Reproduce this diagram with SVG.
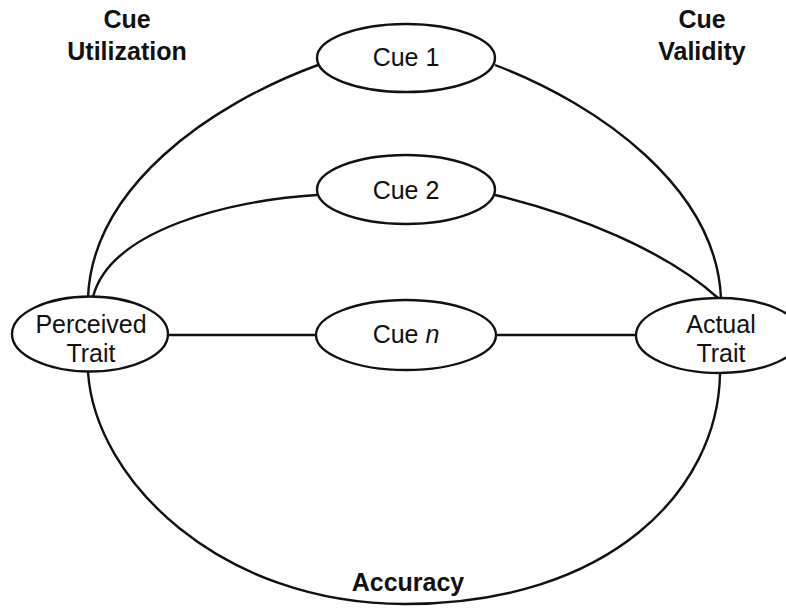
<svg xmlns="http://www.w3.org/2000/svg" width="786" height="608" viewBox="0 0 786 608">
<style>
.edge{fill:none;stroke:#111;stroke-width:2.4}
.node{fill:#fff;stroke:#111;stroke-width:2.4}
.t{font-family:"Liberation Sans",Arial,sans-serif;font-size:25px;fill:#111;text-anchor:middle}
.b{font-family:"Liberation Sans",Arial,sans-serif;font-size:25px;font-weight:bold;fill:#111;text-anchor:middle}
</style>
<rect width="786" height="608" fill="#fff"/>
<g id="connectors">
<path class="edge" d="M 88 297 C 93 187, 209 105, 318 65"/>
<path class="edge" d="M 495 65 C 600 105, 716 188, 721 298"/>
<path class="edge" d="M 93 297 C 110 230, 230 200, 317 195"/>
<path class="edge" d="M 495 195 C 575 214, 665 250, 718 298"/>
<path class="edge" d="M 168 335 L 316 335"/>
<path class="edge" d="M 497 335 L 637 335"/>
<path class="edge" d="M 88 372 C 95 480, 220 604, 405 604 C 610 604, 718 490, 720 374"/>
</g>
<g id="cue1">
<ellipse class="node" cx="406" cy="58" rx="89" ry="34"/>
<text class="t" x="406" y="66">Cue 1</text>
</g>
<g id="cue2">
<ellipse class="node" cx="406" cy="189.5" rx="89" ry="34.5"/>
<text class="t" x="406" y="199">Cue 2</text>
</g>
<g id="cuen">
<ellipse class="node" cx="406" cy="335" rx="90" ry="35"/>
<text class="t" x="406" y="343">Cue <tspan font-style="italic">n</tspan></text>
</g>
<g id="perceived">
<ellipse class="node" cx="90" cy="334" rx="78" ry="37.5"/>
<text class="t" x="91" y="333">Perceived</text>
<text class="t" x="91" y="362">Trait</text>
</g>
<g id="actual">
<ellipse class="node" cx="719" cy="335.5" rx="83" ry="37.5"/>
<text class="t" x="721" y="333">Actual</text>
<text class="t" x="721" y="362">Trait</text>
</g>
<g id="labels">
<text class="b" x="127" y="28">Cue</text>
<text class="b" x="127" y="60">Utilization</text>
<text class="b" x="702" y="28">Cue</text>
<text class="b" x="702" y="60">Validity</text>
<text class="b" x="408" y="591">Accuracy</text>
</g>
</svg>
